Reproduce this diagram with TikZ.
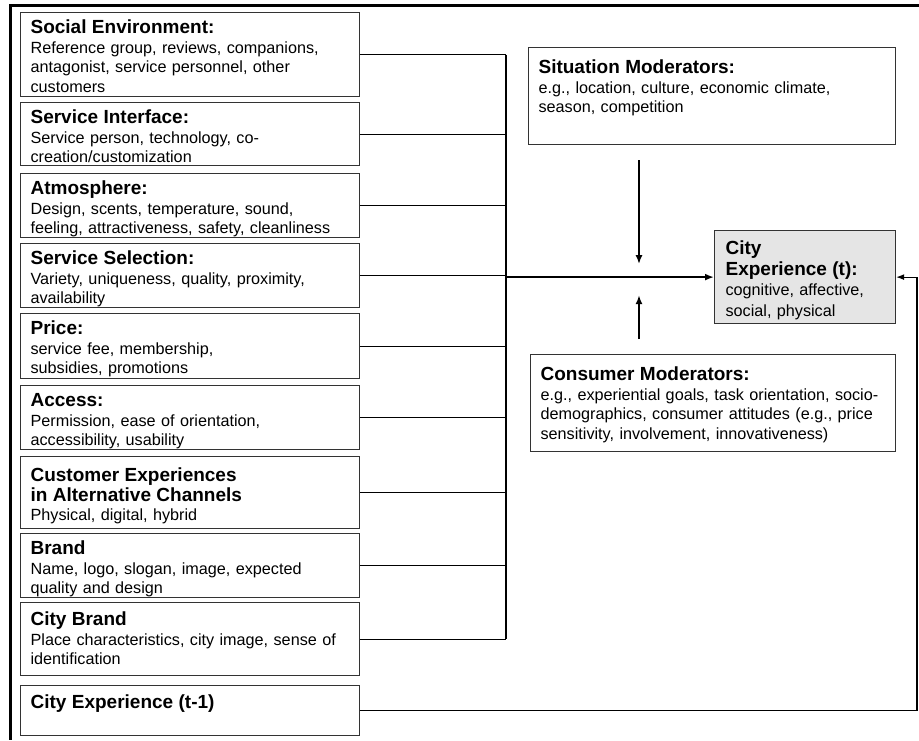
\documentclass[tikz,border=0pt]{standalone}
\usepackage{fontspec}
\setmainfont{Liberation Sans}
\usetikzlibrary{arrows.meta}
\newcommand{\hdfont}{\fontsize{19}{19.5}\selectfont\bfseries}
\newcommand{\bdfont}{\fontsize{16.2}{19.5}\selectfont}
\tikzset{
  factor/.style={draw=black!80, line width=1.2pt, anchor=north west, align=left,
    text width=319pt, inner xsep=10pt, inner ysep=5pt, text height=16pt, font=\bdfont},
  modbox/.style={factor, text width=347pt, text height=21pt, text depth=66pt},
  link/.style={line width=1.1pt},
  bigarrow/.style={line width=2pt, -{Latex[length=9pt,width=7pt]}},
}
\begin{document}
\begin{tikzpicture}[x=1pt,y=-1pt]
  \useasboundingbox (0,0) rectangle (919,740);
  % frame
  \draw[line width=3pt] (919,5) -- (10,5) -- (10,740);
  % left column
  \node[factor, text depth=58pt] (social) at (20,12) {{\hdfont Social Environment:}\\Reference group, reviews, companions,\\antagonist, service personnel, other\\customers};
  \node[factor, text depth=37pt] (iface) at (20,102) {{\hdfont Service Interface:}\\Service person, technology, co-\\creation/customization};
  \node[factor, text depth=38pt] (atmo) at (20,173) {{\hdfont Atmosphere:}\\Design, scents, temperature, sound,\\feeling, attractiveness, safety, cleanliness};
  \node[factor, text depth=38pt] (select) at (20,243) {{\hdfont Service Selection:}\\Variety, uniqueness, quality, proximity,\\availability};
  \node[factor, text depth=39pt] (price) at (20,313) {{\hdfont Price:}\\service fee, membership,\\subsidies, promotions};
  \node[factor, text depth=38pt] (access) at (20,385) {{\hdfont Access:}\\Permission, ease of orientation,\\accessibility, usability};
  \node[factor, text height=20pt, text depth=42pt] (channels) at (20,456) {{\hdfont Customer Experiences\\in Alternative Channels}\\Physical, digital, hybrid};
  \node[factor, text height=16pt, text depth=38pt] (brand) at (20,533) {{\hdfont Brand}\\Name, logo, slogan, image, expected\\quality and design};
  \node[factor, text height=18pt, text depth=45pt] (citybrand) at (20,602) {{\hdfont City Brand}\\Place characteristics, city image, sense of\\identification};
  \node[factor, text height=18pt, text depth=22pt] (cityprev) at (20,685) {{\hdfont City Experience (t-1)}};
  % right column
  \node[modbox] (sit) at (528,47) {{\hdfont Situation Moderators:}\\e.g., location, culture, economic climate,\\season, competition};
  \node[factor, fill=gray!20, text width=159pt, inner xsep=11pt, inner ysep=9pt, text height=15pt, text depth=60pt,
    font={\fontsize{16.2}{20.5}\selectfont}] (cityt) at (714,230) {{\hdfont City\\Experience (t):}\\cognitive, affective,\\social, physical};
  \node[modbox, text width=345pt] (cons) at (530,354) {{\hdfont Consumer Moderators:}\\e.g., experiential goals, task orientation, socio-\\demographics, consumer attitudes (e.g., price\\sensitivity, involvement, innovativeness)};
  % connectors
  \coordinate (bus) at (506,0);
  \coordinate (mod) at (639,0);
  \coordinate (loop) at (917,0);
  \foreach \n in {social,iface,atmo,select,price,access,channels,brand,citybrand}
    \draw[link] (\n.east) -- (\n.east -| bus);
  \draw[link] (social.east -| bus) -- (citybrand.east -| bus);
  \draw[bigarrow] (cityt.west -| bus) -- (cityt.west);
  \draw[bigarrow] ([yshift=-15pt]sit.south -| mod) -- ([yshift=13pt]cityt.west -| mod);
  \draw[bigarrow] ([yshift=15pt]cons.north -| mod) -- ([yshift=-18pt]cityt.west -| mod);
  \draw[link, -{Latex[length=8pt,width=6pt]}] (cityprev.east) -- (cityprev.east -| loop) -- (cityt.east -| loop) -- (cityt.east);
\end{tikzpicture}
\end{document}
